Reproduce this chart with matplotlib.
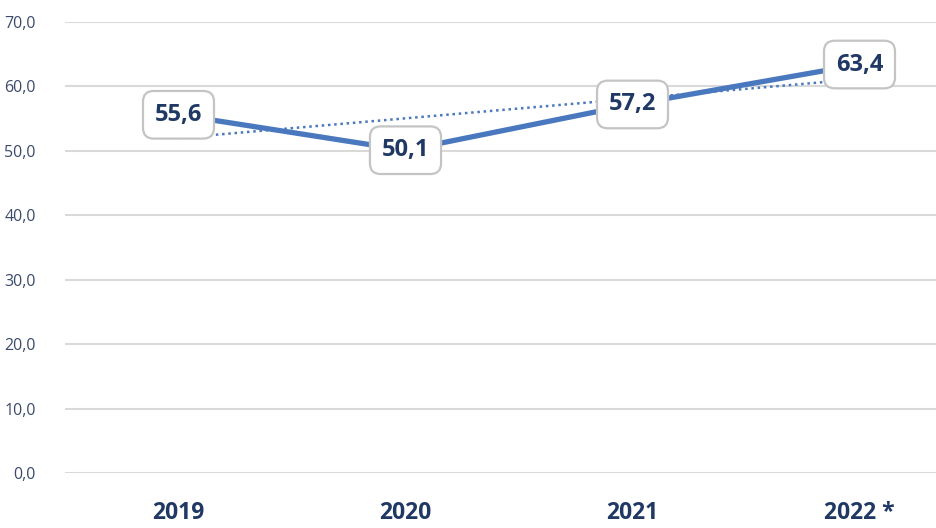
import matplotlib.pyplot as plt
import numpy as np

# Data
years = ["2019", "2020", "2021", "2022 *"]
values = [55.6, 50.1, 57.2, 63.4]
yticks = [0, 10, 20, 30, 40, 50, 60, 70]

navy = '#1F3864'
line_color = '#4A78BE'

fig = plt.figure(figsize=(9.37, 5.28), dpi=100)
# axes extend slightly past the right edge, as in the cropped original
ax = fig.add_axes([65/937, 55/528, 908/937, 451/528])

x = np.arange(len(years))
ax.plot(x, values, color=line_color, linewidth=3.8, solid_capstyle='butt', zorder=3)

# linear trendline
slope, intercept = np.polyfit(x, values, 1)
ax.plot(x, slope * x + intercept, color=line_color, linewidth=1.8,
        linestyle=(0, (1, 1.5)), zorder=2)

# value labels in rounded boxes
for xi, v in zip(x, values):
    ax.text(xi, v, f'{v:.1f}'.replace('.', ','), ha='center', va='center',
            fontsize=17, fontweight='bold', color=navy, family='Open Sans', zorder=4,
            bbox=dict(boxstyle='round,pad=0.5,rounding_size=0.45', facecolor='white',
                      edgecolor='#C4C4C4', linewidth=1.6))

ax.set_xlim(-0.5, 3.5)
ax.set_ylim(0, 70)
ax.set_yticks(yticks)
ax.set_yticklabels([f'{t:.1f}'.replace('.', ',') for t in yticks],
                   fontsize=11.5, color='#3B4A6B', family='Open Sans')
ax.set_xticks(x)
ax.set_xticklabels(years, fontsize=16.5, fontweight='bold', color=navy, family='Open Sans')
ax.tick_params(axis='y', length=0, pad=21)
ax.tick_params(axis='x', length=0, pad=20)

ax.grid(axis='y', color='#D9D9D9', linewidth=1.5)
ax.set_axisbelow(True)
for s in ax.spines.values():
    s.set_visible(False)

plt.savefig('out.png', dpi=100)
